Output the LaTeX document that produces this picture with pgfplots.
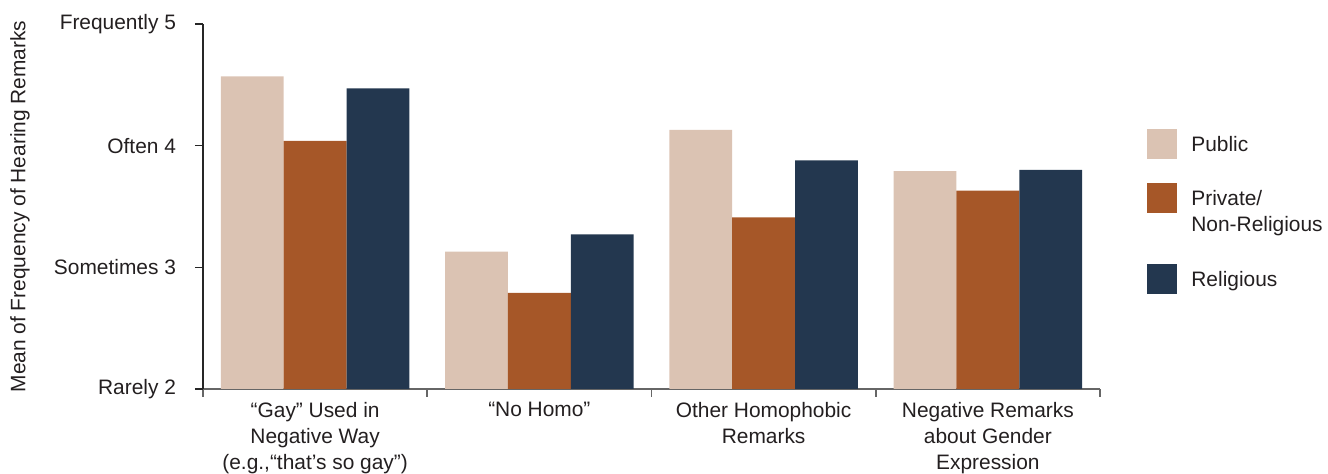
\documentclass[border=0pt]{standalone}
\usepackage{fontspec}
\setmainfont{Liberation Sans}
\usepackage{pgfplots}
\pgfplotsset{compat=1.18}
\definecolor{cpub}{RGB}{219,195,179}
\definecolor{cpriv}{RGB}{166,87,40}
\definecolor{crel}{RGB}{35,55,79}
\definecolor{txt}{RGB}{35,31,32}
\pgfplotsset{sq/.style={legend image code/.code={\fill[##1] (0pt,-3.75pt) rectangle (15pt,11.25pt);}}}
\begin{document}
\begin{tikzpicture}[font=\fontsize{10.45pt}{13pt}\selectfont]
\useasboundingbox (0,0) rectangle (664pt,237pt);
\begin{axis}[
  at={(101.5pt,42.5pt)}, anchor=south west,
  width=448.5pt, height=182.5pt, scale only axis,
  font=\fontsize{10.45pt}{13pt}\selectfont,
  ybar, bar width=0.28,
  xmin=-0.5, xmax=3.5, ymin=2, ymax=5,
  axis x line*=bottom, axis y line*=left,
  axis line style={-},
  x axis line style={black!60, line width=0.8pt},
  y axis line style={black!85, line width=0.8pt},
  tick align=outside,
  major tick length=4pt, minor tick length=4pt,
  ytick={2,3,4,5},
  yticklabels={Rarely 2, Sometimes 3, Often 4, Frequently 5},
  yticklabel style={xshift=-6pt, text=txt},
  ytick style={black!85, line width=0.8pt},
  xtick={0,1,2,3},
  xticklabels={{``Gay'' Used in\\Negative Way\\(e.g.,``that's so gay'')},
               {``No Homo''},
               {Other Homophobic\\Remarks},
               {Negative Remarks\\about Gender\\Expression}},
  xticklabel style={align=center, text=txt, anchor=north, yshift=1pt},
  every major x tick/.style={draw=none},
  minor xtick={-0.5,0.5,1.5,2.5,3.5},
  every minor x tick/.style={black!60, line width=0.8pt},
  every axis y label/.style={at={(axis description cs:-0.204,0.5)}, rotate=90, anchor=center},
  ylabel={Mean of Frequency of Hearing Remarks},
  ylabel style={text=txt},
  legend style={at={(axis description cs:1.0524,0.7123)}, anchor=north west,
    draw=none, fill=none, inner sep=0pt, nodes={inner sep=0pt, text=txt, anchor=base west},
    column sep=7pt, row sep=12pt},
  legend cell align=left,
]
\addplot[fill=cpub, draw=none, bar shift=-0.28, sq] coordinates {(0,4.57) (1,3.13) (2,4.13) (3,3.79)};
\addlegendentry{Public}
\addplot[fill=cpriv, draw=none, bar shift=0, sq] coordinates {(0,4.04) (1,2.79) (2,3.41) (3,3.63)};
\addlegendentry{\vtop{\baselineskip=13pt\hbox{Private/}\hbox{Non-Religious}}}
\addplot[fill=crel, draw=none, bar shift=0.28, sq] coordinates {(0,4.47) (1,3.27) (2,3.88) (3,3.80)};
\addlegendentry{\rule{0pt}{24.5pt}Religious}
\end{axis}
\end{tikzpicture}
\end{document}
